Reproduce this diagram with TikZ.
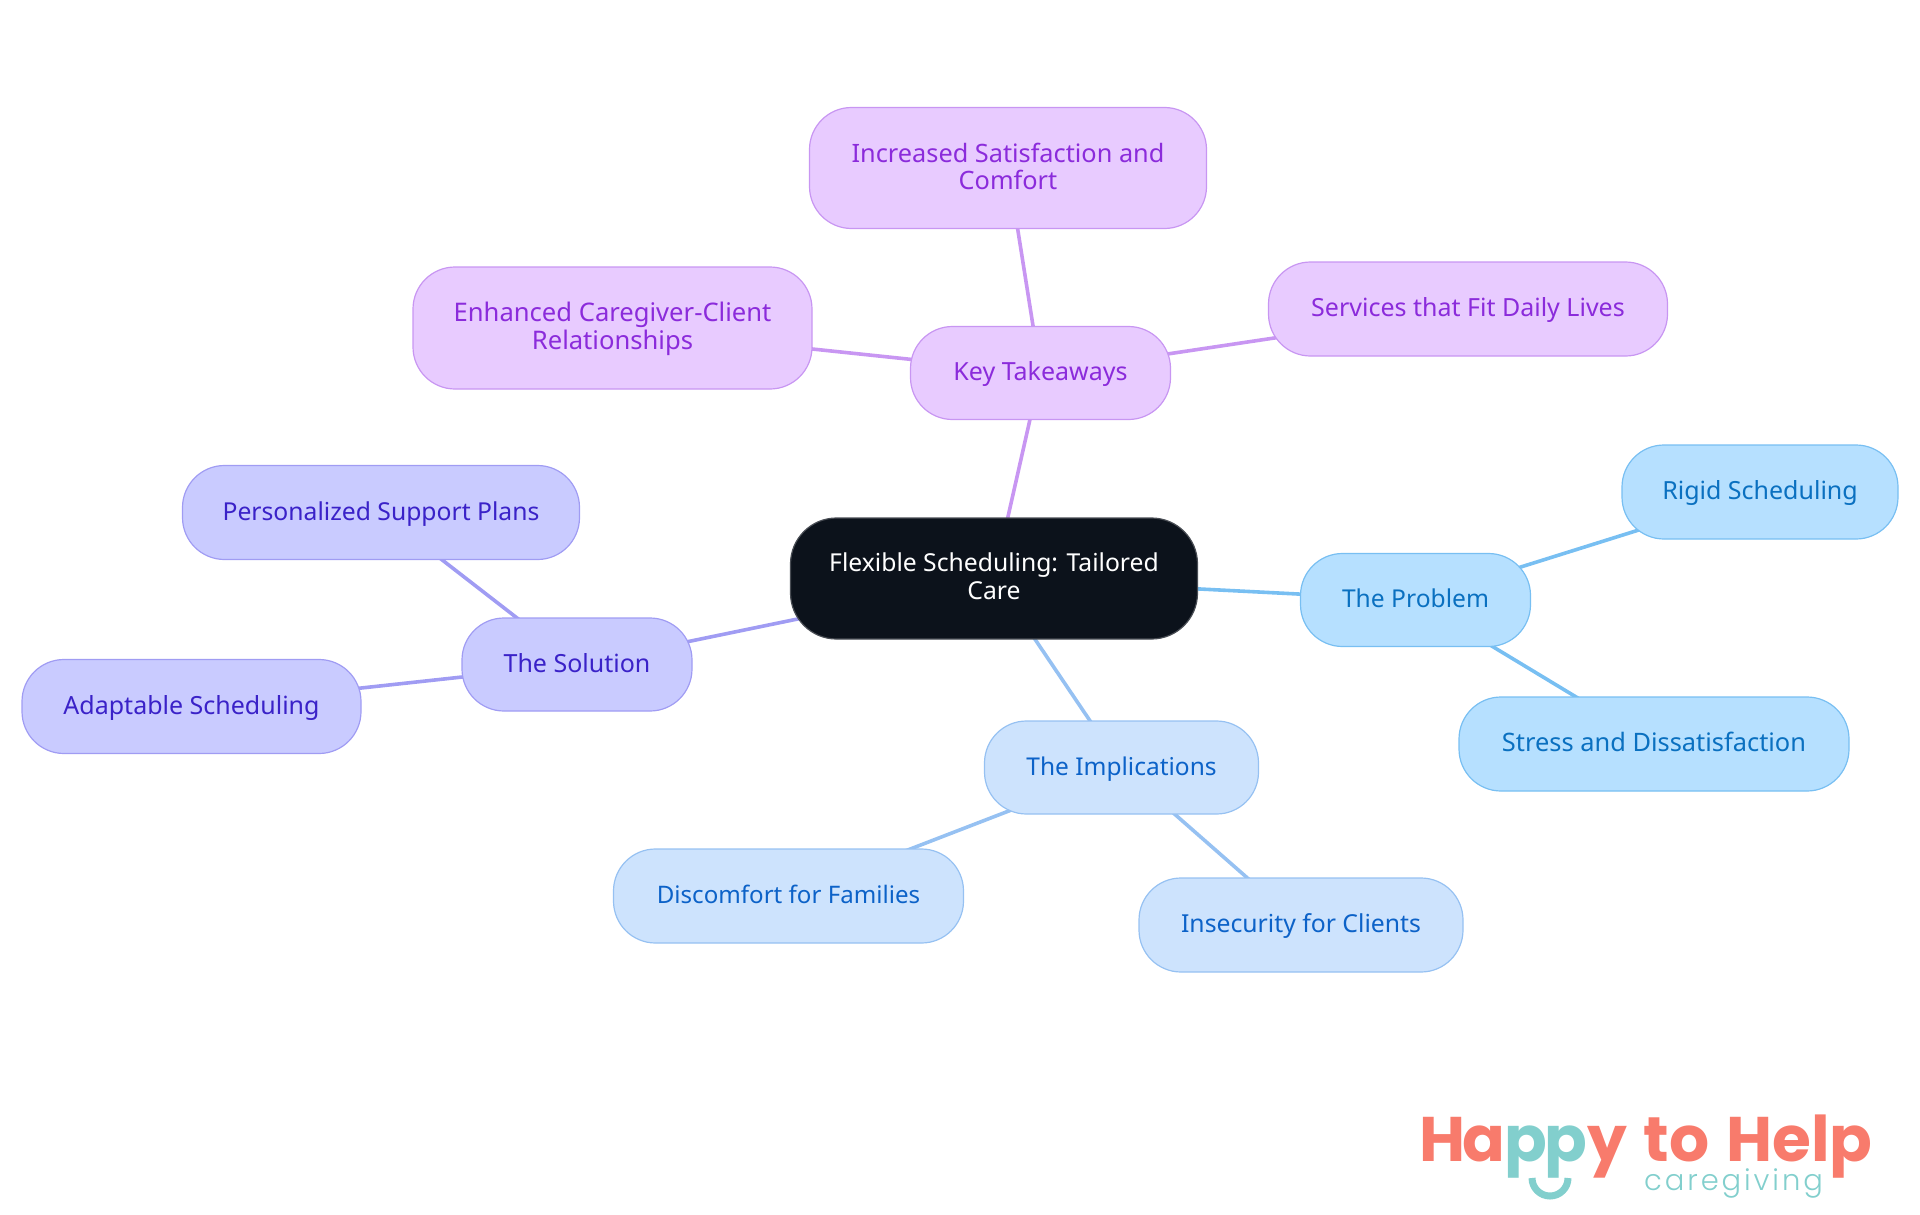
\documentclass[tikz,border=0pt]{standalone}
\usepackage{fontspec}
\setmainfont{Noto Sans}
\newfontfamily\logofont{Poppins}
\newfontfamily\logolight{Poppins Light}
\usetikzlibrary{backgrounds}
\definecolor{kfill}{HTML}{E8CBFF}\definecolor{kline}{HTML}{C896F2}\definecolor{ktext}{HTML}{8B2BDB}
\definecolor{sfill}{HTML}{C9CBFF}\definecolor{sline}{HTML}{A09CF3}\definecolor{stext}{HTML}{3A22C8}
\definecolor{pfill}{HTML}{B6E0FF}\definecolor{pline}{HTML}{78BFF2}\definecolor{ptext}{HTML}{0A70C0}
\definecolor{ifill}{HTML}{CDE3FD}\definecolor{iline}{HTML}{96C1F2}\definecolor{itext}{HTML}{0C62C8}
\definecolor{cfill}{HTML}{0C121B}
\definecolor{coral}{HTML}{F87B6C}\definecolor{teal}{HTML}{82CFCD}
\tikzset{
 fs/.style={font=\fontsize{#1}{27.5}\selectfont},
 box/.style={rounded corners=42pt,line width=1.2pt,inner sep=0pt,align=center,fs=25},
 one/.style={text height=20pt,text depth=5pt},
 keybox/.style={box,fill=kfill,draw=kline,text=ktext},
 solbox/.style={box,fill=sfill,draw=sline,text=stext},
 probox/.style={box,fill=pfill,draw=pline,text=ptext},
 impbox/.style={box,fill=ifill,draw=iline,text=itext},
 rootbox/.style={box,fill=cfill,draw=cfill!75!white,text=white,rounded corners=46pt},
 klink/.style={draw=kline,line width=3.6pt},
 slink/.style={draw=sline,line width=3.6pt},
 plink/.style={draw=pline,line width=3.6pt},
 ilink/.style={draw=iline,line width=3.6pt},
}
\begin{document}
\begin{tikzpicture}[x=1pt,y=-1pt]
\useasboundingbox (0,0) rectangle (1920,1215);
\node[rootbox,fs=24.7,minimum width=407pt,minimum height=121pt] (root) at (994,578.5) {Flexible Scheduling: Tailored\\Care\rule[-5pt]{0pt}{0pt}};
\node[keybox,one,minimum width=260pt,minimum height=93pt] (key) at (1040.5,373) {Key Takeaways};
\node[keybox,fs=25.3,minimum width=397pt,minimum height=121pt] (inc) at (1008,168) {Increased Satisfaction and\\Comfort\rule[-3pt]{0pt}{0pt}};
\node[keybox,fs=25.6,minimum width=399pt,minimum height=122pt] (enh) at (612.5,328) {\rule{0pt}{21pt}Enhanced Caregiver-Client\\Relationships};
\node[keybox,one,minimum width=399pt,minimum height=94pt] (ser) at (1468,309) {Services that Fit Daily Lives};
\node[solbox,one,minimum width=230pt,minimum height=93pt] (sol) at (577,664.5) {The Solution};
\node[solbox,one,fs=24.7,minimum width=397pt,minimum height=94pt] (per) at (381,512.5) {Personalized Support Plans};
\node[solbox,one,minimum width=339pt,minimum height=94pt] (ada) at (191.5,706.5) {Adaptable Scheduling};
\node[probox,one,fs=24.6,minimum width=230pt,minimum height=93pt] (pro) at (1415.5,600) {The Problem};
\node[probox,one,minimum width=276pt,minimum height=94pt] (rig) at (1760,492) {Rigid Scheduling};
\node[probox,one,fs=25.4,minimum width=390pt,minimum height=94pt] (str) at (1654,744) {Stress and Dissatisfaction};
\node[impbox,one,fs=24.5,minimum width=274pt,minimum height=93pt] (imp) at (1121.5,767.5) {The Implications};
\node[impbox,one,fs=24.1,minimum width=350pt,minimum height=94pt] (dis) at (788.5,896) {Discomfort for Families};
\node[impbox,one,fs=24.75,minimum width=324pt,minimum height=94pt] (ins) at (1301,925) {Insecurity for Clients};
\begin{pgfonlayer}{background}
\draw[klink] (root.center) -- (key.center);
\draw[klink] (key.center) -- (inc.center);
\draw[klink] (key.center) -- (enh.center);
\draw[klink] (key.center) -- (ser.center);
\draw[slink] (root.center) -- (sol.center);
\draw[slink] (sol.center) -- (per.center);
\draw[slink] (sol.center) -- (ada.center);
\draw[plink] (root.center) -- (pro.center);
\draw[plink] (pro.center) -- (rig.center);
\draw[plink] (pro.center) -- (str.center);
\draw[ilink] (root.center) -- (imp.center);
\draw[ilink] (imp.center) -- (dis.center);
\draw[ilink] (imp.center) -- (ins.center);
\end{pgfonlayer}
\node[anchor=base west,inner sep=0pt,text=coral] (logo) at (1419,1161) {\logofont\bfseries\fontsize{63}{63}\selectfont{\addfontfeature{LetterSpace=-5}Ha\textcolor{teal}{pp}y}\hspace{3pt} to\hspace{4pt} Help};
\node[anchor=base west,inner sep=0pt,text=teal] (care) at (1644,1190) {\logolight\fontsize{29}{29}\selectfont\addfontfeature{LetterSpace=10}caregiving};
\draw[teal,line width=7pt] (1532,1178) arc[start angle=180,end angle=0,radius=18];
\end{tikzpicture}
\end{document}
